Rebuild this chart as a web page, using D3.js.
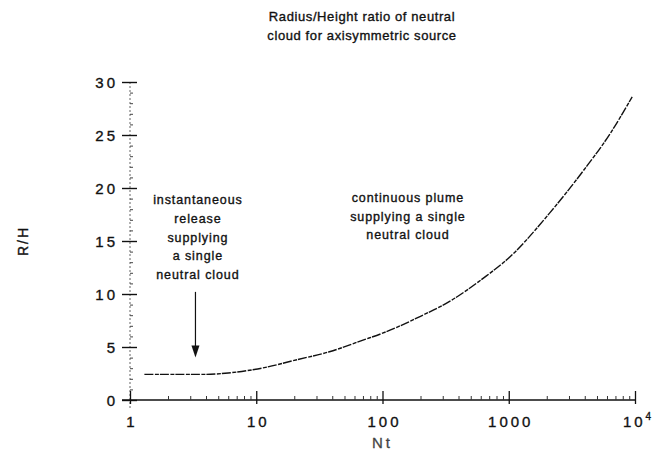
<!DOCTYPE html>
<html>
<head>
<meta charset="utf-8">
<script src="https://cdn.jsdelivr.net/npm/d3@7"></script>
<style>
  body { margin: 0; background: #fff; }
  svg { display: block; font-family: "Liberation Sans", Arial, sans-serif; }
</style>
</head>
<body>
<svg id="chart" width="658" height="451"></svg>
<script>
// values
const ntValues = [1.3, 2, 3, 4, 6, 11, 21, 38, 70, 100, 200, 340, 630, 1000, 2130, 3880, 6330, 9500];
const rhValues = [2.42, 2.42, 2.42, 2.42, 2.55, 3.0, 3.8, 4.55, 5.65, 6.3, 7.9, 9.3, 11.5, 13.4, 17.7, 21.6, 25.1, 28.6];

const xTicks = [1, 10, 100, 1000, 10000];
const xTickLabels = ["1", "10", "100", "1000", "10"];
const yTicks = [0, 5, 10, 15, 20, 25, 30];

const titleLines = ["Radius/Height ratio of neutral", "cloud for axisymmetric source"];
const leftNote = ["instantaneous", "release", "supplying", "a single", "neutral cloud"];
const rightNote = ["continuous plume", "supplying a single", "neutral cloud"];

const svg = d3.select("#chart");

const x = d3.scaleLog().domain([1, 10000]).range([130, 635]);
const y = d3.scaleLinear().domain([0, 30]).range([400, 82]);

const ink = "#111";

// scanned print looks heavier than plain text, so thicken a little
const heavy = sel => sel.attr("stroke", ink).attr("stroke-width", 0.35);

// title
svg.append("g")
    .selectAll("text")
    .data(titleLines)
    .join("text")
    .attr("x", 362)
    .attr("y", (d, i) => 21 + i * 19)
    .attr("text-anchor", "middle")
    .attr("font-size", 13)
    .attr("letter-spacing", 0.6)
    .attr("fill", ink)
    .call(heavy)
    .text(d => d);

// y axis: dotted spine, minor ticks every unit, crossing major ticks
const yAxis = svg.append("g").attr("transform", `translate(${x(1)},0)`);
yAxis.append("line")
    .attr("y1", y(30)).attr("y2", y(0) + 8)
    .attr("stroke", "#666").attr("stroke-width", 1)
    .attr("stroke-dasharray", "2,2");

yAxis.append("g")
    .call(d3.axisRight(y).tickValues(d3.range(0, 31)).tickSize(3).tickFormat(""))
    .call(g => g.select(".domain").remove())
    .selectAll("line").attr("stroke", "#444");

yAxis.append("g")
    .call(d3.axisLeft(y).tickValues(yTicks).tickSize(0).tickPadding(0))
    .call(g => g.select(".domain").remove())
    .call(g => g.selectAll(".tick line")
        .attr("x1", -8).attr("x2", 7)
        .attr("stroke", ink).attr("stroke-width", 1.4))
    .call(g => g.selectAll(".tick text")
        .attr("x", -12)
        .attr("dy", "0.36em")
        .attr("font-size", 15)
        .attr("letter-spacing", 3)
        .attr("fill", ink)
        .call(heavy));

// x axis
const xAxis = svg.append("g").attr("transform", `translate(0,${y(0)})`);
xAxis.append("line")
    .attr("x1", x(1) - 8).attr("x2", x(10000))
    .attr("stroke", ink).attr("stroke-width", 1.5);

const minor = [];
[1, 10, 100, 1000].forEach(d => d3.range(2, 10).forEach(k => minor.push(d * k)));

xAxis.append("g")
    .call(d3.axisTop(x).tickValues(minor).tickSize(4).tickFormat(""))
    .call(g => g.select(".domain").remove())
    .selectAll("line").attr("stroke", "#333");

xAxis.append("g")
    .call(d3.axisBottom(x).tickValues(xTicks).tickSize(0).tickPadding(0)
        .tickFormat((d, i) => xTickLabels[i]))
    .call(g => g.select(".domain").remove())
    .call(g => g.selectAll(".tick line")
        .attr("y1", -9).attr("y2", 4)
        .attr("stroke", ink).attr("stroke-width", 1.3))
    .call(g => g.selectAll(".tick text")
        .attr("y", 27)
        .attr("dy", 0)
        .attr("dx", 1.5)
        .attr("font-size", 15)
        .attr("letter-spacing", 3)
        .attr("fill", ink)
        .call(heavy))
    .call(g => g.selectAll(".tick text").filter(d => d === 10000)
        .append("tspan")
        .attr("dy", -7)
        .attr("font-size", 10)
        .attr("letter-spacing", 0)
        .text("4"));

// axis titles
svg.append("text")
    .attr("x", x(100))
    .attr("y", 448)
    .attr("text-anchor", "middle")
    .attr("font-size", 15)
    .attr("letter-spacing", 3)
    .attr("fill", "#444")
    .attr("stroke", "#444").attr("stroke-width", 0.3)
    .text("Nt");

svg.append("text")
    .attr("transform", "translate(28,241) rotate(-90)")
    .attr("text-anchor", "middle")
    .attr("font-size", 14)
    .attr("letter-spacing", 2)
    .attr("fill", ink)
    .call(heavy)
    .text("R/H");

// curve
const line = d3.line()
    .x(d => x(d[0]))
    .y(d => y(d[1]))
    .curve(d3.curveMonotoneX);

svg.append("path")
    .datum(ntValues.map((d, i) => [d, rhValues[i]]))
    .attr("d", line)
    .attr("fill", "none")
    .attr("stroke", ink)
    .attr("stroke-width", 1.4)
    .attr("stroke-dasharray", "9,1.5,4,1");

// annotations
svg.append("g")
    .selectAll("text")
    .data(leftNote)
    .join("text")
    .attr("x", x(3.45))
    .attr("y", (d, i) => y(18.5) + i * 18.8)
    .attr("text-anchor", "middle")
    .attr("font-size", 12.5)
    .attr("letter-spacing", 0.9)
    .attr("fill", ink)
    .call(heavy)
    .text(d => d);

svg.append("g")
    .selectAll("text")
    .data(rightNote)
    .join("text")
    .attr("x", x(159))
    .attr("y", (d, i) => y(18.7) + i * 18.8)
    .attr("text-anchor", "middle")
    .attr("font-size", 12.5)
    .attr("letter-spacing", 0.9)
    .attr("fill", ink)
    .call(heavy)
    .text(d => d);

// arrow
const arrowNt = 3.3, arrowFrom = 10.2, arrowTo = 4.0;
svg.append("line")
    .attr("x1", x(arrowNt)).attr("x2", x(arrowNt))
    .attr("y1", y(arrowFrom)).attr("y2", y(arrowTo) - 8)
    .attr("stroke", ink).attr("stroke-width", 1.2);
svg.append("path")
    .attr("d", `M${x(arrowNt) - 4},${y(arrowTo) - 12}L${x(arrowNt) + 4},${y(arrowTo) - 12}L${x(arrowNt)},${y(arrowTo)}Z`)
    .attr("fill", ink);
</script>
</body>
</html>
